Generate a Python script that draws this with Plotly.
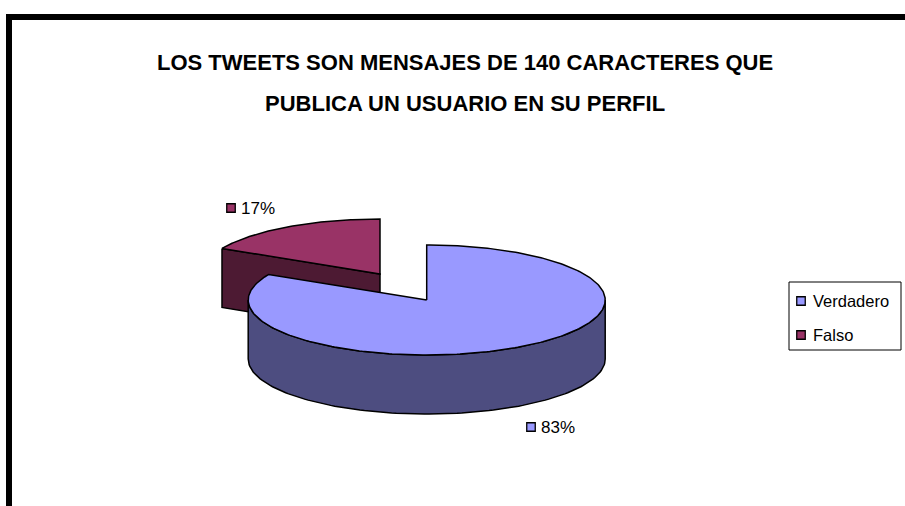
import numpy as np
import plotly.graph_objects as go

categories = ["Verdadero", "Falso"]
values = [82.7, 17.3]
colors_top = ["#9999FF", "#993366"]
colors_side = ["#4D4D80", "#4D1A33"]
title_lines = ["LOS TWEETS SON MENSAJES DE 140 CARACTERES QUE", "PUBLICA UN USUARIO EN SU PERFIL"]

W, H = 905, 506
RX, RY, DEPTH = 178.5, 55, 59
CENTERS = [(426.7, 300), (380, 274)]


def pt(c, deg, dy=0):
    a = np.radians(deg)
    return c[0] + RX * np.sin(a), c[1] - RY * np.cos(a) + dy


def arc(c, a0, a1, dy=0, n=120):
    d = np.linspace(a0, a1, n)
    return pt(c, d, dy)


fig = go.Figure()


def poly(x, y, fill):
    fig.add_trace(go.Scatter(x=list(x), y=list(y), mode="lines", fill="toself", fillcolor=fill,
                             line=dict(color="black", width=1.5), hoverinfo="skip", showlegend=False))


split = values[0] / sum(values) * 360

# Falso: cut face, then top
c = CENTERS[1]
tx, ty = pt(c, split)
poly([tx, c[0], c[0], tx, tx], [ty, c[1], c[1] + DEPTH, ty + DEPTH, ty], colors_side[1])
ax, ay = arc(c, split, 360)
poly(np.r_[ax, c[0], ax[0]], np.r_[ay, c[1], ay[0]], colors_top[1])

# Verdadero: rim, then top
c = CENTERS[0]
ax, ay = arc(c, 90, 270)
bx, by = arc(c, 270, 90, DEPTH)
poly(np.r_[ax, bx, ax[0]], np.r_[ay, by, ay[0]], colors_side[0])
ax, ay = arc(c, 0, split, n=300)
poly(np.r_[c[0], ax, c[0]], np.r_[c[1], ay, c[1]], colors_top[0])

annotations = []


def swatch_text(lx, ly, color, label, gap, size):
    fig.add_trace(go.Scatter(x=[lx], y=[ly], mode="markers",
                             marker=dict(symbol="square", size=8.5, color=color, line=dict(color="black", width=1.3)),
                             hoverinfo="skip", showlegend=False))
    annotations.append(dict(x=lx + gap, y=ly, text=label, showarrow=False, xref="x", yref="y",
                            xanchor="left", yanchor="middle", xshift=-2,
                            font=dict(family="Liberation Sans", size=size, color="black")))


# Data labels with swatches
label_pos = [(531, 427), (231, 208)]
for i, (lx, ly) in enumerate(label_pos):
    swatch_text(lx, ly, colors_top[i], f"{values[i]:.0f}%", 10, 17)

# Legend
legend_pos = [(801, 301), (801, 335)]
for i, (lx, ly) in enumerate(legend_pos):
    swatch_text(lx, ly, colors_top[i], categories[i], 11.5, 16.5)

shapes = [
    dict(type="rect", x0=789, x1=901, y0=282, y1=350, line=dict(color="black", width=1), fillcolor="rgba(0,0,0,0)"),
    dict(type="line", x0=6, x1=905, y0=17, y1=17, line=dict(color="black", width=6)),
    dict(type="line", x0=9, x1=9, y0=14, y1=506, line=dict(color="black", width=6)),
]
annotations += [
    dict(x=465, y=62, text=title_lines[0], showarrow=False, xref="x", yref="y",
         font=dict(family="Liberation Sans", size=22, color="black", weight="bold")),
    dict(x=465, y=103, text=title_lines[1], showarrow=False, xref="x", yref="y",
         font=dict(family="Liberation Sans", size=22, color="black", weight="bold")),
]
fig.update_layout(width=W, height=H, margin=dict(l=0, r=0, t=0, b=0), paper_bgcolor="white", plot_bgcolor="white",
                  xaxis=dict(range=[0, W], visible=False, fixedrange=True),
                  yaxis=dict(range=[H, 0], visible=False, fixedrange=True),
                  shapes=shapes, annotations=annotations, showlegend=False)
fig.write_html("out.html", config=dict(displayModeBar=False),
               post_script="document.body.style.margin='0';document.documentElement.style.overflow='hidden';")
